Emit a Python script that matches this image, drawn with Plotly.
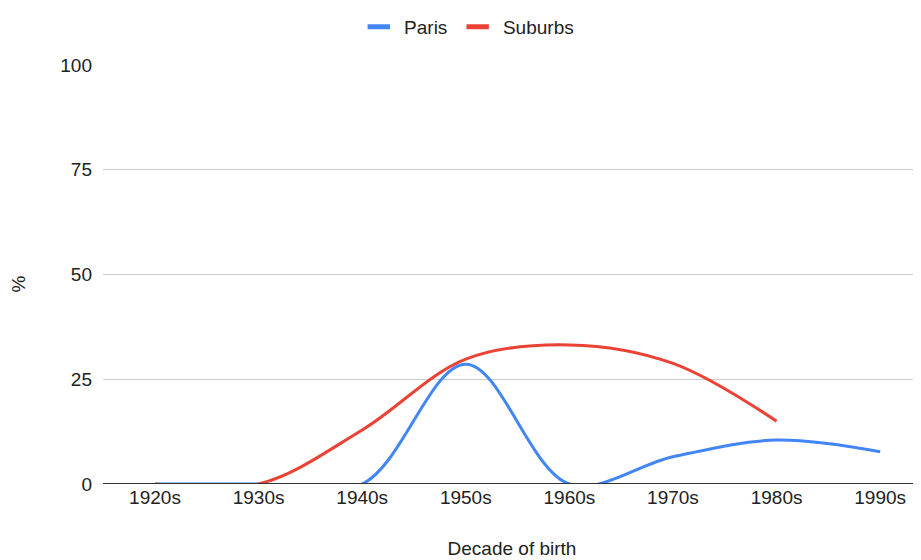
import plotly.graph_objects as go

decades = ["1920s", "1930s", "1940s", "1950s", "1960s", "1970s", "1980s", "1990s"]
paris = [0, 0, 0, 28.6, 0, 6.5, 10.5, 7.7]
suburbs = [0, 0, 12.9, 29.8, 33.2, 28.8, 15.0, None]
y_ticks = [0, 25, 50, 75, 100]

font_family = "Arial, Liberation Sans, sans-serif"
fs = 19
text_color = "#222222"
blue = "#4285F4"
red = "#EA4335"
nb = "\u00a0"

fig = go.Figure()
fig.add_trace(go.Scatter(
    x=decades, y=paris, name="Paris", mode="lines", showlegend=False, legendgroup="p",
    line=dict(color=blue, width=3, shape="spline", smoothing=1.0),
))
fig.add_trace(go.Scatter(
    x=decades, y=suburbs, name="Suburbs", mode="lines", showlegend=False, legendgroup="s",
    line=dict(color=red, width=3, shape="spline", smoothing=1.0),
))
# legend entries (rectangle-like swatches)
for nm, col, grp in [("Paris", blue, "p"), ("Suburbs", red, "s")]:
    fig.add_trace(go.Scatter(
        x=[None], y=[None], name=nb + nm + nb, mode="markers", legendgroup=grp,
        marker=dict(symbol="line-ew", size=16, color=col, line=dict(color=col, width=5)),
    ))

fig.update_layout(
    width=913, height=552,
    margin=dict(l=95, r=0, t=57, b=76),
    paper_bgcolor="white", plot_bgcolor="white",
    font=dict(family=font_family, size=fs, color=text_color),
    legend=dict(orientation="h", x=0.508, xref="container", xanchor="center",
                y=1.0, yref="container", yanchor="top",
                font=dict(size=fs, color=text_color),
                itemwidth=30, tracegroupgap=0),
    xaxis=dict(
        type="category", range=[-0.502, 7.394], automargin=False,
        showgrid=False, zeroline=False, showline=False,
        ticks="", tickfont=dict(size=fs, color=text_color),
        title=dict(text="Decade of birth", font=dict(size=fs, color=text_color), standoff=34),
    ),
    yaxis=dict(
        range=[0, 100], tickvals=y_ticks, ticktext=[str(v) for v in y_ticks],
        automargin=False,
        showgrid=True, gridcolor="#cccccc", gridwidth=1,
        zeroline=False, showline=False, ticks="", ticklabelstandoff=10,
        tickfont=dict(size=fs, color=text_color),
    ),
    showlegend=True,
)
fig.add_annotation(text="%", textangle=-90, showarrow=False,
                   xref="paper", yref="paper", x=0, y=0.5, xanchor="center", yanchor="middle",
                   xshift=-85, yshift=-10, font=dict(size=fs, color=text_color))
fig.add_shape(type="line", xref="paper", yref="y", x0=0, x1=1, y0=0, y1=0,
              line=dict(color="#333333", width=2), layer="above")

fig.write_html("out.html")
